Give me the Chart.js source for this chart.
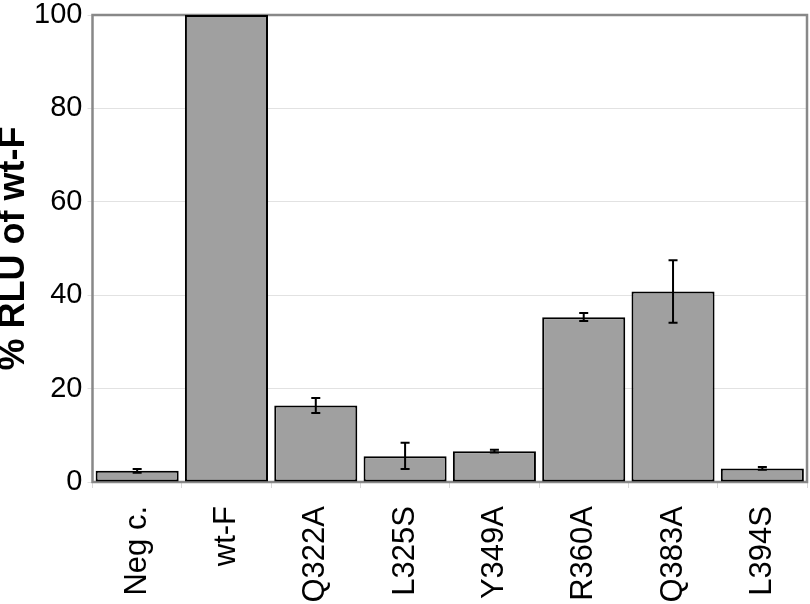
<!DOCTYPE html>
<html>
<head>
<meta charset="utf-8">
<script src="https://cdn.jsdelivr.net/npm/chart.js@4/dist/chart.umd.min.js"></script>
<style>
html,body{margin:0;padding:0;background:#fff;}
#c{display:block;}
</style>
</head>
<body>
<canvas id="c" width="810" height="604"></canvas>
<script>
const categories = ["Neg c.", "wt-F", "Q322A", "L325S", "Y349A", "R360A", "Q383A", "L394S"];
const values = [2.4, 100, 16.4, 5.5, 6.6, 35.3, 40.8, 2.9];
const errLow = [2.0, null, 14.8, 2.8, 6.3, 34.5, 34.1, 2.6];
const errHigh = [2.8, null, 18.0, 8.4, 6.9, 36.2, 47.5, 3.2];
const yTicks = [0, 20, 40, 60, 80, 100];

const FONT = "'Liberation Sans', Arial, Helvetica, sans-serif";

const framePlugin = {
  id: 'frame',
  beforeDatasetsDraw(chart) {
    const {ctx, chartArea: a} = chart;
    ctx.save();
    ctx.strokeStyle = '#888888';
    ctx.lineWidth = 2.5;
    ctx.strokeRect(a.left, a.top, a.right - a.left, a.bottom - a.top);
    ctx.restore();
  }
};

const errorBarPlugin = {
  id: 'errorBars',
  afterDatasetsDraw(chart) {
    const {ctx} = chart;
    const meta = chart.getDatasetMeta(0);
    const y = chart.scales.y;
    ctx.save();
    ctx.strokeStyle = '#000';
    ctx.lineWidth = 2;
    meta.data.forEach((bar, i) => {
      if (errLow[i] == null || errHigh[i] == null) return;
      const x = bar.x;
      const yl = y.getPixelForValue(errLow[i]);
      const yh = y.getPixelForValue(errHigh[i]);
      const cap = 4.5;
      ctx.beginPath();
      ctx.moveTo(x, yl); ctx.lineTo(x, yh);
      ctx.moveTo(x - cap, yl); ctx.lineTo(x + cap, yl);
      ctx.moveTo(x - cap, yh); ctx.lineTo(x + cap, yh);
      ctx.stroke();
    });
    ctx.restore();
  }
};

new Chart(document.getElementById('c'), {
  type: 'bar',
  data: {
    labels: categories,
    datasets: [{
      data: values,
      backgroundColor: '#a0a0a0',
      borderColor: '#000000',
      borderWidth: 2,
      borderSkipped: false,
      barPercentage: 0.93,
      categoryPercentage: 1.0
    }]
  },
  options: {
    responsive: false,
    animation: false,
    layout: { padding: { top: 15, right: 3, left: 0, bottom: 0 } },
    plugins: { legend: { display: false }, tooltip: { enabled: false } },
    scales: {
      x: {
        offset: true,
        grid: { display: true, drawOnChartArea: false, offset: true, color: '#d8d8d8', tickLength: 6 },
        border: { display: false },
        ticks: {
          minRotation: 90, maxRotation: 90, autoSkip: false,
          color: '#000', padding: 18,
          font: { family: FONT, size: 31 }
        },
        afterFit(s) { s.height = 122; s.paddingLeft = 0; s.paddingRight = 0; }
      },
      y: {
        min: 0, max: 100,
        afterBuildTicks(s) { s.ticks = yTicks.map(v => ({ value: v })); },
        grid: { color: '#e2e2e2', lineWidth: 1, tickLength: 5 },
        border: { display: false },
        ticks: {
          color: '#000', padding: 5,
          font: { family: FONT, size: 29 }
        },
        title: {
          display: true,
          text: '% RLU of wt-F',
          color: '#000',
          font: { family: FONT, size: 36, weight: 'bold', lineHeight: 0.8 },
          padding: { top: 0, bottom: 0 }
        },
        afterFit(s) { s.width = 92.5; s.paddingTop = 0; s.paddingBottom = 0; }
      }
    }
  },
  plugins: [framePlugin, errorBarPlugin]
});
</script>
</body>
</html>
